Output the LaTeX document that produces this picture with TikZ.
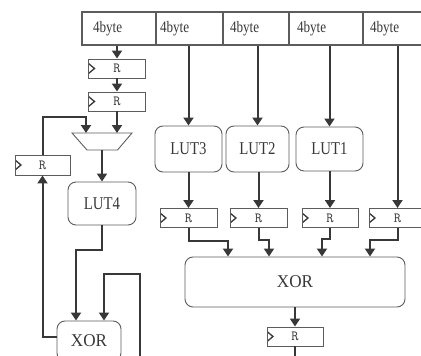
\documentclass[tikz,border=0pt]{standalone}
\usepackage{fontspec}
\setmainfont{Liberation Serif}[FakeStretch=0.82]
\newfontfamily\xorfont{Liberation Serif}[FakeStretch=0.95]
\usetikzlibrary{arrows.meta}
\definecolor{wirec}{HTML}{383838}
\definecolor{edgec}{HTML}{5C5C5C}
\tikzset{
  wordbox/.style={draw=edgec, line width=1.1pt, minimum height=33pt,
    inner ysep=0pt, align=left, text=wirec,
    font=\fontsize{16}{16}\selectfont},
  lutbox/.style={draw=edgec, line width=0.9pt, rounded corners=8pt,
    inner sep=0pt, text=wirec, font=\fontsize{18}{18}\selectfont},
  regbox/.style={draw=edgec, line width=0.9pt, minimum width=57pt,
    minimum height=19pt, inner sep=0pt, text=wirec,
    font=\ttfamily\fontsize{14}{14}\selectfont,
    path picture={\draw[line width=1.3pt, wirec]
      ([yshift=5pt]path picture bounding box.west)
      -- ([xshift=6pt]path picture bounding box.west)
      -- ([yshift=-5pt]path picture bounding box.west);}},
  link/.style={draw=wirec, line width=2pt,
    -{Triangle[length=8pt,width=10pt]}},
}
\begin{document}
\begin{tikzpicture}[x=1pt, y=-1pt]
  \useasboundingbox (0,0) rectangle (421,356);
  \clip (0,0) rectangle (421,356);
  % Input words
  \node[wordbox, inner xsep=11pt, text width=52pt] (b1) at (119,28.5) {4byte};
  \node[wordbox, inner xsep=4pt, text width=59pt] (b2) at (189.5,28.5) {4byte};
  \node[wordbox, inner xsep=7pt, text width=52pt] (b3) at (256,28.5) {4byte};
  \node[wordbox, inner xsep=8pt, text width=58pt] (b4) at (326,28.5) {4byte};
  \node[wordbox, inner xsep=7pt, text width=60pt] (b5) at (400,28.5) {4byte};
  % Left column
  \node[regbox] (r1) at (117,68.5) {R};
  \node[regbox] (r2) at (117,101.5) {R};
  % mux
  \draw[draw=edgec, line width=0.9pt] (72,133) -- (132,133) -- (117.5,150)
    -- (87,150) -- cycle;
  \coordinate (muxin) at (102,133);
  \coordinate (muxout) at (102,150);
  \node[regbox, minimum width=55pt, minimum height=20pt] (rl) at (42.5,165) {R};
  \node[lutbox, minimum width=68pt, minimum height=43pt] (lut4) at (102,203.5) {LUT4};
  \node[lutbox, minimum width=64pt, minimum height=40pt,
    font=\xorfont\fontsize{18}{18}\selectfont] (xs) at (89,341) {XOR};
  \coordinate (fbin) at (140,360);
  % Right column
  \node[lutbox, minimum width=67pt, minimum height=46pt] (lut3) at (188.5,149) {LUT3};
  \node[lutbox, minimum width=63pt, minimum height=46pt] (lut2) at (257.5,149) {LUT2};
  \node[lutbox, minimum width=67pt, minimum height=44pt] (lut1) at (329.5,149) {LUT1};
  \node[regbox] (ra) at (188.5,218) {R};
  \node[regbox] (rb) at (258.5,218) {R};
  \node[regbox, minimum width=56pt] (rc) at (330,218) {R};
  \node[regbox] (rd) at (397.5,218) {R};
  \node[lutbox, minimum width=220pt, minimum height=50pt,
    font=\xorfont\fontsize{18}{18}\selectfont] (xb) at (295,282) {XOR};
  \node[regbox, minimum width=56pt] (rz) at (295,336.5) {R};
  \coordinate (out) at (295,360);
  % Left connections
  \draw[link] (r1.north |- b1.south) -- (r1.north);
  \draw[link] (r1.south) -- (r2.north);
  \draw[link] (r2.south) -- (r2.south |- muxin);
  \draw[link] (rl.north) -- ++(0,-38) -| ([xshift=-16pt]muxin);
  \draw[link] (muxout) -- (lut4.north);
  \draw[link] (lut4.south) -- ++(0,25) -| ([xshift=-13pt]xs.north);
  \draw[link] (fbin) -- ++(0,-86) -| ([xshift=15pt]xs.north);
  \draw[link] ([yshift=4pt]xs.west) -| (rl.south);
  % Right connections
  \draw[link] (lut3.north |- b2.south) -- (lut3.north);
  \draw[link] (lut2.north |- b3.south) -- (lut2.north);
  \draw[link] (lut1.north |- b4.south) -- (lut1.north);
  \draw[link] (rd.north |- b5.south) -- (rd.north);
  \draw[link] (lut3.south) -- (ra.north);
  \draw[link] (rb.north |- lut2.south) -- (rb.north);
  \draw[link] (rc.north |- lut1.south) -- (rc.north);
  \draw[link] (ra.south) -- ++(0,13) -| ([xshift=-67pt]xb.north);
  \draw[link] (rb.south) -- ++(0,12) -| ([xshift=-26pt]xb.north);
  \draw[link] (rc.south) -- ++(0,11) -| ([xshift=27pt]xb.north);
  \draw[link] (rd.south) -- ++(0,12) -| ([xshift=75pt]xb.north);
  \draw[link] (xb.south) -- (rz.north);
  \draw[draw=wirec, line width=2pt] (rz.south) -- (out);
\end{tikzpicture}
\end{document}
